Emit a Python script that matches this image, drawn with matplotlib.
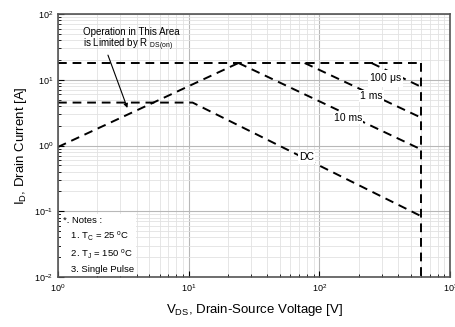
import numpy as np
import matplotlib
matplotlib.use("Agg")
import matplotlib.pyplot as plt

plt.rcParams['font.family'] = ['Liberation Sans', 'DejaVu Sans']
plt.rcParams['mathtext.fontset'] = 'custom'
plt.rcParams['mathtext.rm'] = 'Liberation Sans'
plt.rcParams['mathtext.it'] = 'Liberation Sans'

# safe operating area boundaries (V, A)
rds_v = [1.0, 24.0]
rds_i = [0.95, 18.0]
top_v = [1.0, 600.0]
top_i = [18.0, 18.0]
us100_v = [250.0, 600.0]
us100_i = [18.0, 7.8]
ms1_v = [77.0, 600.0]
ms1_i = [18.0, 2.65]
ms10_v = [24.0, 600.0]
ms10_i = [18.0, 0.87]
dc_v = [1.0, 10.7, 600.0]
dc_i = [4.5, 4.5, 0.084]
bv_v = [600.0, 600.0]
bv_i = [18.0, 0.01]

curve_labels = ["100 $\\mu$s", "1 ms", "10 ms", "DC"]
label_pos = [(318, 10.5), (250, 5.7), (165, 2.65), (80, 0.66)]
notes = ["*. Notes :", "   1. T$_C$ = 25 $^o$C", "   2. T$_J$ = 150 $^o$C", "   3. Single Pulse"]

fig = plt.figure(figsize=(4.55, 3.27), dpi=100)
ax = fig.add_axes([0.1275, 0.153, 0.862, 0.804])
ax.set_xscale('log')
ax.set_yscale('log')
ax.set_xlim(1, 1000)
ax.set_ylim(0.01, 100)

ax.grid(True, which='major', color='#b8b8b8', lw=0.8)
ax.grid(True, which='minor', color='#e2e2e2', lw=0.6)
ax.set_axisbelow(True)

ls = dict(color='black', lw=1.4, dashes=(4.5, 3))
for xs, ys in [(rds_v, rds_i), (top_v, top_i), (us100_v, us100_i), (ms1_v, ms1_i),
               (ms10_v, ms10_i), (dc_v, dc_i), (bv_v, bv_i)]:
    ax.plot(xs, ys, **ls)

for lab, (x, y) in zip(curve_labels, label_pos):
    ax.text(x, y, lab, fontsize=7.5, ha='center', va='center', zorder=5,
            bbox=dict(facecolor='white', edgecolor='none', pad=0.8))

ax.text(1.55, 53, "Operation in This Area", fontsize=7, ha='left', va='center')
ax.text(1.55, 34, "is Limited by R $_{\\mathregular{DS(on)}}$", fontsize=7, ha='left', va='center')
ax.annotate("", xy=(3.45, 3.4), xytext=(2.37, 26),
            arrowprops=dict(arrowstyle='-|>', color='black', lw=0.8, mutation_scale=6))

ax.text(1.09, 0.0112, "\n".join(notes), fontsize=6.8, ha='left', va='bottom', linespacing=1.5,
        bbox=dict(facecolor='white', edgecolor='none', pad=1.5))

ax.tick_params(which='both', direction='in', labelsize=6.5, colors='black')
ax.tick_params(which='major', length=4)
ax.tick_params(which='minor', length=2)
for s in ax.spines.values():
    s.set_color('#555555')
    s.set_linewidth(1.2)

ax.set_xlabel("V$_{\\mathregular{DS}}$, Drain-Source Voltage [V]", fontsize=9.5, labelpad=6)
ax.set_ylabel("I$_{\\mathregular{D}}$, Drain Current [A]", fontsize=9.5, labelpad=4)

fig.savefig("out.png", dpi=100)
